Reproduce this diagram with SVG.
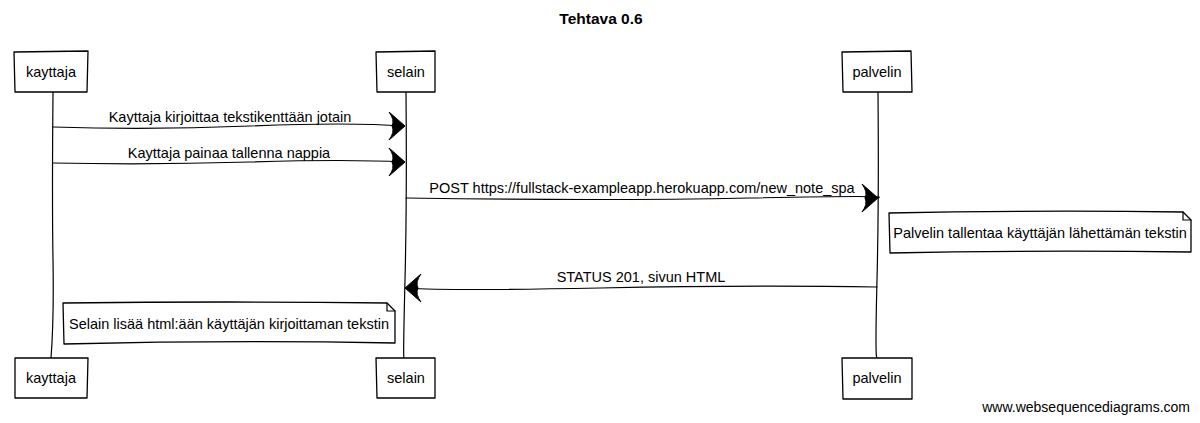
<svg xmlns="http://www.w3.org/2000/svg" width="1200" height="423" viewBox="0 0 1200 423">
<style>
.ln{fill:none;stroke:#000;stroke-width:1.2;stroke-linecap:round;stroke-linejoin:round}
.bx{fill:#fff;stroke:#000;stroke-width:1.3;stroke-linejoin:round}
.t{font-family:"Liberation Sans",Arial,sans-serif;font-size:14.5px;fill:#000}
.c{text-anchor:middle}
.ah{fill:#000;stroke:#000;stroke-width:1;stroke-linejoin:round}
</style>
<rect width="1200" height="423" fill="#fff"/>
<text x="601" y="24" class="t c" style="font-weight:bold;font-size:15.5px">Tehtava 0.6</text>
<g id="connectors">
<path class="ln" d="M53,92 Q52,200 53,260 T51,358"/>
<path class="ln" d="M406,92 Q407,200 405,280 T404,358"/>
<path class="ln" d="M878,92 Q879,200 877,280 T877,358"/>
<path class="ln" d="M53,127 Q150,130 250,126 T403,126"/>
<path class="ah" d="M405,126 L389,112 Q395,120 392,126 Q395,132 389,140 Z"/>
<text x="230" y="122" class="t c">Kayttaja kirjoittaa tekstikenttään jotain</text>
<path class="ln" d="M53,163 Q150,165 250,162 T403,162"/>
<path class="ah" d="M405,162 L389,148 Q395,156 392,162 Q395,168 389,176 Z"/>
<text x="229" y="158" class="t c">Kayttaja painaa tallenna nappia</text>
<path class="ln" d="M406,198 Q600,201 750,198 T876,198"/>
<path class="ah" d="M878,198 L862,184 Q868,192 865,198 Q868,204 862,212 Z"/>
<text x="642" y="193" class="t c">POST https://fullstack-exampleapp.herokuapp.com/new_note_spa</text>
<path class="ln" d="M877,287 Q750,285 600,288 T407,288"/>
<path class="ah" d="M405,288 L421,274 Q415,282 418,288 Q415,294 421,302 Z"/>
<text x="641" y="282" class="t c">STATUS 201, sivun HTML</text>
</g>
<g id="kayttaja-top"><path class="bx" d="M14,52 L88,51 L87,92 L15,92 Z"/><text x="51" y="77" class="t c">kayttaja</text></g>
<g id="selain-top"><path class="bx" d="M376,52 L435,51 L435,92 L377,92 Z"/><text x="406" y="77" class="t c">selain</text></g>
<g id="palvelin-top"><path class="bx" d="M842,52 L911,51 L912,92 L843,92 Z"/><text x="877" y="77" class="t c">palvelin</text></g>
<g id="kayttaja-bottom"><path class="bx" d="M15,358 L88,358 L87,398 L15,398 Z"/><text x="51" y="383" class="t c">kayttaja</text></g>
<g id="selain-bottom"><path class="bx" d="M376,358 L435,358 L435,398 L377,398 Z"/><text x="406" y="383" class="t c">selain</text></g>
<g id="palvelin-bottom"><path class="bx" d="M842,358 L912,358 L912,399 L843,399 Z"/><text x="877" y="383" class="t c">palvelin</text></g>
<g id="note-palvelin"><path class="bx" d="M889,213 Q1040,210 1183,212 L1191,220 L1191,252 Q1040,250 890,253 Z"/><path class="ln" d="M1183,212 L1183,220 L1191,220"/><text x="1040" y="238" class="t c">Palvelin tallentaa käyttäjän lähettämän tekstin</text></g>
<g id="note-selain"><path class="bx" d="M63,303 Q230,301 387,303 L395,311 L395,343 Q230,340 64,344 Z"/><path class="ln" d="M387,303 L387,311 L395,311"/><text x="229" y="329" class="t c">Selain lisää html:ään käyttäjän kirjoittaman tekstin</text></g>
<text x="1190" y="412" class="t" style="text-anchor:end;font-size:14px">www.websequencediagrams.com</text>
</svg>
